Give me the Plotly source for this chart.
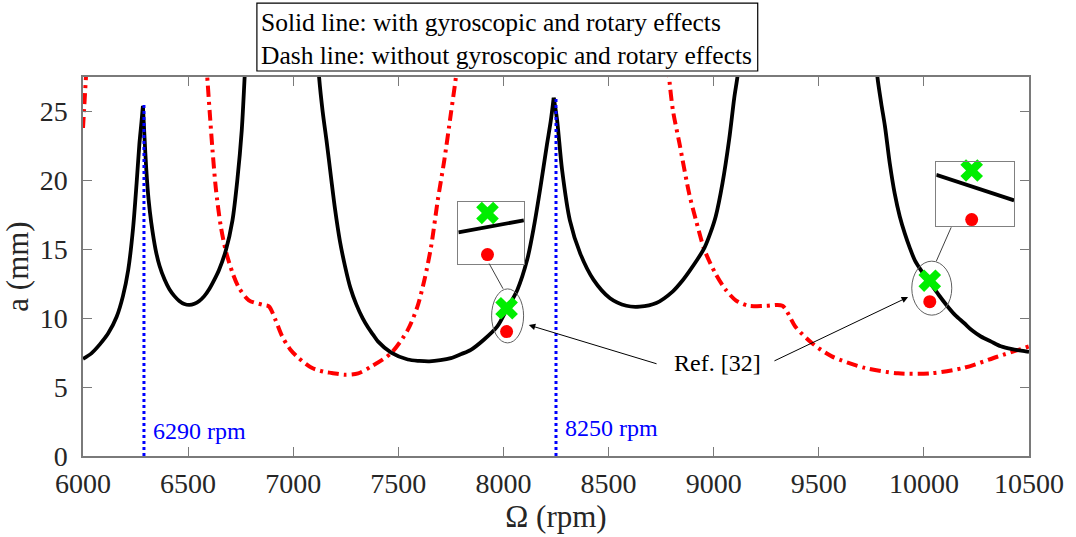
import plotly.graph_objects as go

# ---------------- data ----------------
# solid black: with gyroscopic and rotary effects (branches split at the cusps)
black1a_x = [6000, 6040, 6080, 6120, 6160, 6190, 6215, 6238, 6255, 6268, 6278, 6285]
black1a_y = [7.05, 7.45, 8.1, 8.9, 10.1, 11.6, 13.5, 16.5, 19.8, 22.6, 24.2, 25.4]
black1b_x = [6285, 6293, 6301, 6312, 6325, 6345, 6364, 6388, 6411, 6435, 6458, 6482, 6506, 6530,
             6553, 6577, 6600, 6625, 6647, 6679, 6711, 6734, 6755, 6769, 6774]
black1b_y = [25.4, 23.0, 20.8, 18.6, 16.9, 15.0, 13.8, 12.8, 12.1, 11.6, 11.25, 11.03, 10.96, 11.05,
             11.25, 11.6, 12.1, 12.8, 13.5, 14.9, 17.1, 20.0, 23.6, 27.5, 28.8]
black2a_x = [7118, 7123, 7140, 7160, 7180, 7199, 7222, 7246, 7272, 7300, 7330, 7357, 7380, 7404,
             7466, 7545, 7600, 7648, 7700, 7750, 7800, 7845, 7908, 7971, 8018, 8066, 8113, 8145,
             8176, 8207, 8225, 8239]
black2a_y = [28.6, 27.5, 25.0, 22.7, 20.2, 17.9, 15.6, 13.8, 12.2, 11.0, 10.0, 9.3, 8.8, 8.3,
             7.5, 7.0, 6.9, 6.87, 6.95, 7.1, 7.4, 7.7, 8.45, 9.4, 10.7, 12.05, 14.25, 16.65,
             19.5, 22.6, 24.3, 26.0]
black2b_x = [8239, 8255, 8279, 8316, 8365, 8428, 8507, 8585, 8648, 8727, 8806, 8850, 8884, 8920,
             8956, 8985, 9010, 9042, 9074, 9098, 9113, 9118]
black2b_y = [26.0, 24.4, 20.75, 17.1, 14.7, 12.8, 11.45, 10.9, 10.84, 11.1, 11.95, 12.7, 13.4, 14.2,
             15.1, 16.2, 17.4, 19.8, 23.0, 26.0, 27.5, 28.3]
black3_x = [9776, 9779, 9797, 9815, 9838, 9861, 9885, 9909, 9933, 9957, 9990, 10026, 10070, 10113,
            10150, 10191, 10230, 10271, 10320, 10366, 10420, 10484, 10500]
black3_y = [28.3, 27.5, 25.6, 23.9, 21.2, 19.05, 17.4, 16.15, 15.1, 14.2, 13.4, 12.65, 11.7, 10.85,
            10.2, 9.65, 9.1, 8.67, 8.3, 7.96, 7.75, 7.59, 7.55]

# dash-dot red: without gyroscopic and rotary effects
red1_x = [6000, 6016]
red1_y = [23.8, 28.0]
red2_x = [6586, 6591, 6603, 6616, 6632, 6655, 6679, 6711, 6742, 6789, 6852, 6884, 6915, 6947,
          6986, 7025, 7088, 7150, 7183, 7246, 7309, 7372, 7466, 7545, 7590, 7624, 7656, 7687,
          7719, 7750, 7774, 7778]
red2_y = [28.6, 27.5, 24.9, 22.2, 19.4, 16.7, 14.9, 13.3, 12.2, 11.3, 10.98, 10.86, 9.9, 8.7,
          7.73, 7.12, 6.4, 6.1, 6.03, 5.9, 6.0, 6.5, 7.47, 9.15, 10.8, 12.77, 15.2, 18.5,
          21.5, 24.85, 27.5, 28.2]
red3_x = [8785, 8788, 8806, 8837, 8884, 8916, 8956, 9010, 9058, 9105, 9166, 9250, 9327, 9388,
          9467, 9562, 9719, 9877, 10034, 10191, 10349, 10500]
red3_y = [28.3, 27.5, 25.1, 22.7, 19.0, 17.1, 14.96, 13.2, 12.05, 11.3, 10.9, 10.9, 10.9, 9.4,
          8.2, 7.23, 6.39, 6.0, 6.0, 6.4, 7.2, 7.95]

# critical speeds (blue dotted)
crit_x = [6290, 8250]
crit_top = [25.5, 26.0]
crit_labels = ["6290 rpm", "8250 rpm"]

# comparison points
mark_x = [8015, 10028]
present_y = [10.72, 12.72]   # green crosses
ref_y = [9.03, 11.2]         # red dots (Ref. [32])

# zoomed insets: local segment of the solid curve
inset1_line_x = [7997.2, 8037.2]
inset1_line_y = [9.93, 10.42]
inset2_line_x = [10009.8, 10049.8]
inset2_line_y = [12.588, 11.794]

x_ticks = [6000, 6500, 7000, 7500, 8000, 8500, 9000, 9500, 10000, 10500]
x_tick_text = [str(v) for v in x_ticks]
y_ticks = [0, 5, 10, 15, 20, 25]

note_lines = ["Solid line: with gyroscopic and rotary effects",
              "Dash line: without gyroscopic and rotary effects"]

# ---------------- layout geometry ----------------
W, H = 1076, 537
L, R, T, B = 83, 41, 77, 80
PW, PH = W - L - R, H - T - B
XR = [6000, 10500]
YR = [0, 27.5]


def px(xp):
    return (xp - L) / PW


def py(yp):
    return (H - B - yp) / PH


FONT = "Liberation Serif, Times New Roman, Times, serif"
TXT = "#262626"
AX = "#7a7a7a"

fig = go.Figure()

for bx, by in [(red1_x, red1_y), (red2_x, red2_y), (red3_x, red3_y)]:
    fig.add_trace(go.Scatter(x=bx, y=by, mode="lines",
                             line=dict(color="#ff0000", width=4, dash="11px,5px,3px,5px",
                                       shape="spline", smoothing=0.8)))
for bx, by in [(black1a_x, black1a_y), (black1b_x, black1b_y), (black2a_x, black2a_y),
               (black2b_x, black2b_y), (black3_x, black3_y)]:
    fig.add_trace(go.Scatter(x=bx, y=by, mode="lines",
                             line=dict(color="black", width=3.8, shape="spline", smoothing=0.8)))
for cx, ct in zip(crit_x, crit_top):
    fig.add_trace(go.Scatter(x=[cx, cx], y=[0, ct], mode="lines",
                             line=dict(color="#0000ff", width=3, dash="3px,3px")))

fig.add_trace(go.Scatter(x=mark_x, y=ref_y, mode="markers",
                         marker=dict(color="#ff0000", size=13, symbol="circle")))
fig.add_trace(go.Scatter(x=mark_x, y=present_y, mode="markers",
                         marker=dict(color="#00ee00", size=20, symbol="x", line=dict(width=0))))

# insets
inset_specs = [
    dict(box=(460.7, 202.7, 526.7, 264.0), lx=inset1_line_x, ly=inset1_line_y, i=0,
         xr=[7997.2, 8037.2], yr=[8.665, 11.15]),
    dict(box=(941.7, 162.7, 1020.0, 226.7), lx=inset2_line_x, ly=inset2_line_y, i=1,
         xr=[10009.8, 10049.8], yr=[10.993, 12.967]),
]
for k, s in enumerate(inset_specs, start=2):
    x0, y0, x1, y1 = s["box"]
    xa, ya = f"x{k}", f"y{k}"
    fig.add_trace(go.Scatter(x=s["lx"], y=s["ly"], mode="lines", xaxis=xa, yaxis=ya,
                             line=dict(color="black", width=3.8)))
    fig.add_trace(go.Scatter(x=[mark_x[s["i"]]], y=[ref_y[s["i"]]], mode="markers",
                             xaxis=xa, yaxis=ya, cliponaxis=False,
                             marker=dict(color="#ff0000", size=13)))
    fig.add_trace(go.Scatter(x=[mark_x[s["i"]]], y=[present_y[s["i"]]], mode="markers",
                             xaxis=xa, yaxis=ya, cliponaxis=False,
                             marker=dict(color="#00ee00", size=20, symbol="x", line=dict(width=0))))
    common = dict(showline=True, mirror=True, linecolor="#808080", linewidth=1.3,
                  showticklabels=False, ticks="", showgrid=False, zeroline=False)
    fig.update_layout(**{
        f"xaxis{k}": dict(domain=[px(x0), px(x1)], range=s["xr"], anchor=ya, **common),
        f"yaxis{k}": dict(domain=[py(y1), py(y0)], range=s["yr"], anchor=xa, **common),
    })

shapes = []
# ellipses around the comparison points
ell = [(1, 16, 4), (2, 20, 3)]
for i, (dxp, rx, dyp) in enumerate(ell):
    cy = (present_y[i] + ref_y[i]) / 2
    shapes.append(dict(type="circle", xref="x", yref="y", xsizemode="pixel", ysizemode="pixel",
                       xanchor=mark_x[i], yanchor=cy,
                       x0=dxp - rx, x1=dxp + rx, y0=dyp - 27, y1=dyp + 27,
                       line=dict(color="#606060", width=1)))
# connectors inset -> ellipse
for (ax0, ay0, ax1, ay1) in [(491.7, 264.0, 505.7, 289.3), (956.7, 227.7, 941.7, 261.7)]:
    shapes.append(dict(type="line", xref="paper", yref="paper",
                       x0=px(ax0), y0=py(ay0), x1=px(ax1), y1=py(ay1),
                       line=dict(color="#404040", width=1)))
# note box
shapes.append(dict(type="rect", xref="paper", yref="paper",
                   x0=px(258), y0=py(71), x1=px(762), y1=py(3),
                   line=dict(color="black", width=1.2), fillcolor="white", layer="above"))

annotations = []
annotations.append(dict(text="<br>".join(note_lines), xref="paper", yref="paper",
                        x=px(260), y=py(38.5), xanchor="left", yanchor="middle", align="left",
                        showarrow=False, font=dict(family=FONT, size=25.5, color="black")))
for cx, lab, ly in zip(crit_x, crit_labels, [1.81, 2.06]):
    annotations.append(dict(text=lab, x=cx + 34, y=ly, xref="x", yref="y", xanchor="left",
                            yanchor="middle", showarrow=False,
                            font=dict(family=FONT, size=24, color="#0000ff")))
annotations.append(dict(text="Ref. [32]", x=9019, y=6.78, xref="x", yref="y", showarrow=False,
                        xanchor="center", yanchor="middle", font=dict(family=FONT, size=24, color="black")))
for (hx, hy, tx, ty) in [(8120.6, 9.50, 8735.5, 6.66), (9925, 11.53, 9282, 6.85)]:
    annotations.append(dict(text="", x=hx, y=hy, ax=tx, ay=ty, xref="x", yref="y", axref="x", ayref="y",
                            showarrow=True, arrowhead=2, arrowsize=1.3, arrowwidth=1, arrowcolor="black"))

fig.update_layout(
    width=W, height=H, margin=dict(l=L, r=R, t=T, b=B),
    paper_bgcolor="white", plot_bgcolor="white", showlegend=False,
    font=dict(family=FONT, color=TXT),
    xaxis=dict(range=XR, tickvals=x_ticks, ticktext=x_tick_text, ticks="inside", ticklen=9,
               tickcolor=AX, tickwidth=1,
               showline=True, mirror="ticks", linecolor=AX, linewidth=1.5, showgrid=False, zeroline=False,
               tickfont=dict(family=FONT, size=28, color=TXT), ticklabelstandoff=2,
               title=dict(text="Ω (rpm)", font=dict(family=FONT, size=31, color=TXT), standoff=4)),
    yaxis=dict(range=YR, tickvals=y_ticks, ticks="inside", ticklen=9, tickcolor=AX, tickwidth=1,
               showline=True, mirror="ticks", linecolor=AX, linewidth=1.5, showgrid=False, zeroline=False,
               tickfont=dict(family=FONT, size=28, color=TXT), ticklabelstandoff=8,
               title=dict(text="a (mm)", font=dict(family=FONT, size=31, color=TXT), standoff=2)),
    shapes=shapes, annotations=annotations,
)

fig.write_html("out.html")
